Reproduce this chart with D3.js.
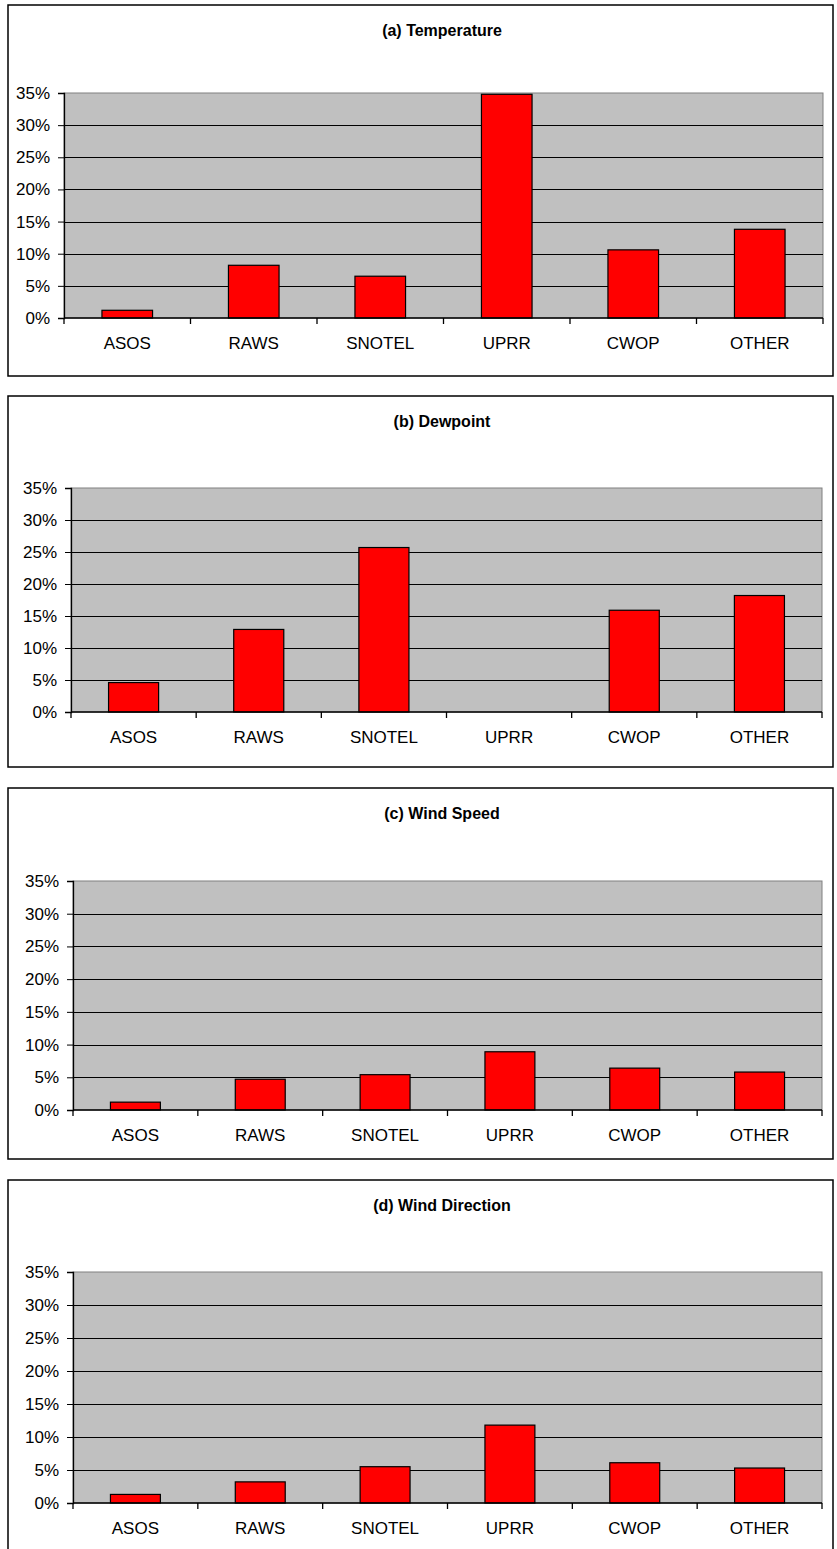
<head>
  <script src="https://cdnjs.cloudflare.com/ajax/libs/d3/7.8.5/d3.min.js"></script>
</head>
<style media="screen">
  body { margin: 0; background: #fff; }
  text { font-family: "Liberation Sans", Arial, sans-serif; fill: #000; }
  .title { font-weight: bold; font-size: 16px; }
  .tick-label { font-size: 17px; }
</style>
<body>
<script type="text/javascript">
// categories and values (percent)
var networks = ["ASOS", "RAWS", "SNOTEL", "UPRR", "CWOP", "OTHER"];
var titles = ["(a) Temperature", "(b) Dewpoint", "(c) Wind Speed", "(d) Wind Direction"];
var temperature = [1.2, 8.2, 6.5, 34.8, 10.6, 13.8];
var dewpoint = [4.6, 12.9, 25.7, 0, 15.9, 18.2];
var windSpeed = [1.2, 4.7, 5.4, 8.9, 6.4, 5.8];
var windDirection = [1.3, 3.2, 5.5, 11.8, 6.1, 5.3];
var yTicks = [0, 5, 10, 15, 20, 25, 30, 35];

var series = [temperature, dewpoint, windSpeed, windDirection];

// layout of each panel (frame box + plot box)
var layout = [
  {frameTop: 5, frameBottom: 376, left: 64, top: 93, bottom: 318, right: 823},
  {frameTop: 396, frameBottom: 767, left: 71, top: 488, bottom: 712, right: 822},
  {frameTop: 788, frameBottom: 1159, left: 73, top: 881, bottom: 1110, right: 822},
  {frameTop: 1180, frameBottom: 1556, left: 73, top: 1272, bottom: 1503, right: 822}
];

var svg = d3.select("body").append("svg")
    .attr("width", 837)
    .attr("height", 1549);

series.forEach(function(values, i) {
  var L = layout[i];

  // frame
  svg.append("rect")
      .attr("x", 8).attr("y", L.frameTop)
      .attr("width", 825).attr("height", L.frameBottom - L.frameTop)
      .attr("fill", "#fff")
      .attr("stroke", "#000")
      .attr("stroke-width", 1.5);

  svg.append("text")
      .attr("class", "title")
      .attr("x", 442)
      .attr("y", L.frameTop + 31)
      .attr("text-anchor", "middle")
      .text(titles[i]);

  var x = d3.scaleBand()
      .domain(networks)
      .range([L.left, L.right])
      .paddingInner(0.6)
      .paddingOuter(0.3);

  var y = d3.scaleLinear()
      .domain([0, 35])
      .range([L.bottom, L.top]);

  var g = svg.append("g");

  // plot area
  g.append("rect")
      .attr("x", L.left).attr("y", L.top)
      .attr("width", L.right - L.left).attr("height", L.bottom - L.top)
      .attr("fill", "#c0c0c0")
      .attr("stroke", "#808080")
      .attr("stroke-width", 1);

  // gridlines
  g.selectAll(".grid")
    .data(yTicks.filter(function(t) { return t > 0 && t < 35; }))
    .enter().append("line")
      .attr("x1", L.left).attr("x2", L.right)
      .attr("y1", function(d) { return Math.round(y(d)) + 0.5; })
      .attr("y2", function(d) { return Math.round(y(d)) + 0.5; })
      .attr("stroke", "#000")
      .attr("stroke-width", 1);

  // bars
  g.selectAll(".bar")
    .data(values)
    .enter().append("rect")
      .attr("x", function(d, j) { return x(networks[j]); })
      .attr("y", function(d) { return y(d); })
      .attr("width", x.bandwidth())
      .attr("height", function(d) { return L.bottom - y(d); })
      .attr("fill", "#ff0000")
      .attr("stroke", function(d) { return d > 0 ? "#000" : "none"; })
      .attr("stroke-width", 1.2);

  // y axis
  var yAxis = g.append("g")
      .attr("transform", "translate(" + L.left + ",0)")
      .call(d3.axisLeft(y).tickValues(yTicks).tickSize(6).tickPadding(8)
        .tickFormat(function(d) { return d + "%"; }));
  yAxis.select(".domain").attr("stroke", "#000").attr("stroke-width", 1.3);
  yAxis.selectAll("text").attr("class", "tick-label").attr("fill", "#000")
      .style("font-family", "'Liberation Sans', Arial, sans-serif");

  // x axis with ticks at category boundaries
  var step = x.step();
  var bounds = d3.range(networks.length + 1).map(function(k) { return L.left + k * step; });
  g.append("line")
      .attr("x1", L.left).attr("x2", L.right)
      .attr("y1", L.bottom).attr("y2", L.bottom)
      .attr("stroke", "#000").attr("stroke-width", 1.3);
  g.selectAll(".xtick")
    .data(bounds)
    .enter().append("line")
      .attr("x1", function(d) { return d; }).attr("x2", function(d) { return d; })
      .attr("y1", L.bottom).attr("y2", L.bottom + 6)
      .attr("stroke", "#000").attr("stroke-width", 1.3);
  g.selectAll(".xlabel")
    .data(networks)
    .enter().append("text")
      .attr("class", "tick-label")
      .attr("x", function(d) { return x(d) + x.bandwidth() / 2; })
      .attr("y", L.bottom + 31)
      .attr("text-anchor", "middle")
      .text(function(d) { return d; });
});
</script>
</body>
